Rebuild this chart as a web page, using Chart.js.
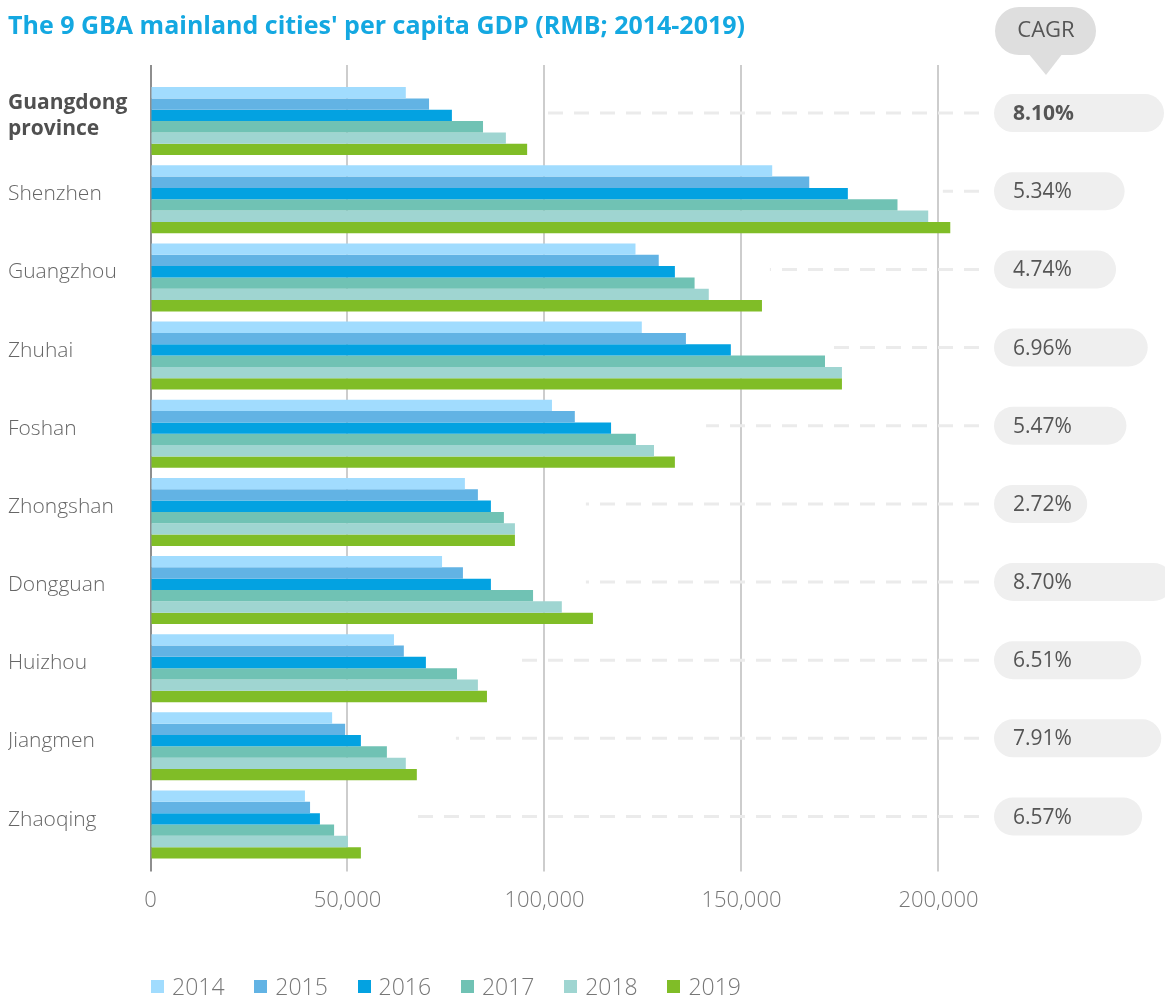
<!DOCTYPE html>
<html>
<head>
<meta charset="utf-8">
<title>GBA per capita GDP</title>
<script src="https://cdn.jsdelivr.net/npm/chart.js@4.4.1/dist/chart.umd.min.js"></script>
<style>
    html, body { margin: 0; padding: 0; background: #fff; }
    #wrap { position: relative; width: 1165px; height: 998px; overflow: hidden; }
    #legend {
        position: absolute; left: 151px; top: 973px;
        display: flex; font-family: 'Open Sans', sans-serif; font-weight: 300;
        font-size: 23px; line-height: 26px; color: #777;
    }
    #legend .item { display: flex; align-items: center; width: 103.3px; }
    #legend .box { width: 13px; height: 13px; margin-right: 8px; }
</style>
</head>
<body>
<div id="wrap">
    <canvas id="chart" width="1165" height="998"></canvas>
    <div id="legend"></div>
</div>
<script>
// Chart data
const cities = [['Guangdong', 'province'], 'Shenzhen', 'Guangzhou', 'Zhuhai', 'Foshan',
    'Zhongshan', 'Dongguan', 'Huizhou', 'Jiangmen', 'Zhaoqing'];
const years = ['2014', '2015', '2016', '2017', '2018', '2019'];
const gdp2014 = [64800, 157800, 123100, 124700, 101900, 79800, 74000, 61800, 46100, 39200];
const gdp2015 = [70700, 167200, 129000, 135900, 107700, 83100, 79300, 64300, 49400, 40500];
const gdp2016 = [76500, 177000, 133100, 147300, 116900, 86400, 86400, 69900, 53400, 43000];
const gdp2017 = [84400, 189600, 138100, 171200, 123200, 89700, 97100, 77800, 60000, 46600];
const gdp2018 = [90200, 197400, 141700, 175500, 127800, 92500, 104400, 83100, 64800, 50100];
const gdp2019 = [95600, 203000, 155200, 175500, 133100, 92500, 112300, 85400, 67600, 53400];
const cagr = [8.10, 5.34, 4.74, 6.96, 5.47, 2.72, 8.70, 6.51, 7.91, 6.57];
const xTicks = [0, 50000, 100000, 150000, 200000];

// Styles
const palette = ['#a1dcfe', '#62b3e4', '#03a2e1', '#70c2b4', '#9fd5d1', '#80bd27'];
const FONT = "'Open Sans', sans-serif";
const series = [gdp2014, gdp2015, gdp2016, gdp2017, gdp2018, gdp2019];

function gridColor(ctx) {
    return ctx.tick && ctx.tick.value === 0 ? '#8e8e8e' : '#cdcdcd';
}

function setTicks(scale) {
    scale.ticks = xTicks.map(v => ({ value: v }));
}

function pillPath(ctx, x, y, w, h) {
    const r = h / 2;
    ctx.beginPath();
    ctx.moveTo(x + r, y);
    ctx.lineTo(x + w - r, y);
    ctx.arc(x + w - r, y + r, r, -Math.PI / 2, Math.PI / 2);
    ctx.lineTo(x + r, y + h);
    ctx.arc(x + r, y + r, r, Math.PI / 2, Math.PI * 1.5);
    ctx.closePath();
}

/**
 * Dashed leaders, CAGR pills and the CAGR callout
 */
const cagrPlugin = {
    id: 'cagrPills',
    beforeDatasetsDraw(chart) {
        const ctx = chart.ctx;
        const x = chart.scales.x;
        const y = chart.scales.y;
        ctx.save();
        ctx.strokeStyle = '#ebebeb';
        ctx.lineWidth = 3;
        ctx.setLineDash([15, 11]);
        cities.forEach((c, i) => {
            const yc = y.getPixelForValue(i) - 8;
            ctx.beginPath();
            ctx.moveTo(979, yc);
            ctx.lineTo(x.getPixelForValue(gdp2016[i]) + 95, yc);
            ctx.stroke();
        });
        ctx.restore();
    },
    afterDraw(chart) {
        const ctx = chart.ctx;
        const y = chart.scales.y;
        const pct = chart.scales.xPct;
        ctx.save();

        // callout
        ctx.fillStyle = '#dedede';
        pillPath(ctx, 995, 7, 101, 48);
        ctx.fill();
        ctx.beginPath();
        ctx.moveTo(1028, 53);
        ctx.lineTo(1063, 53);
        ctx.lineTo(1046, 75);
        ctx.closePath();
        ctx.fill();
        ctx.fillStyle = '#555';
        ctx.font = '400 22px ' + FONT;
        ctx.textAlign = 'center';
        ctx.textBaseline = 'middle';
        ctx.fillText('CAGR', 1046, 31);

        // pills
        ctx.textAlign = 'left';
        cagr.forEach((v, i) => {
            const yc = y.getPixelForValue(i) - 8;
            const left = 994;
            const right = pct.getPixelForValue(v);
            ctx.fillStyle = '#efefef';
            pillPath(ctx, left, yc - 19, right - left, 38);
            ctx.fill();
            ctx.fillStyle = '#555';
            ctx.font = (i === 0 ? 'bold ' : '400 ') + '21px ' + FONT;
            ctx.fillText(v.toFixed(2) + '%', 1013, yc + 1);
        });
        ctx.restore();
    }
};

const chart = new Chart(document.getElementById('chart').getContext('2d'), {
    type: 'bar',
    data: {
        labels: cities,
        datasets: years.map((yr, k) => ({
            label: yr,
            data: series[k],
            backgroundColor: palette[k],
            borderWidth: 0,
            barPercentage: 1,
            categoryPercentage: 0.87,
            xAxisID: 'x',
            yAxisID: 'y'
        }))
    },
    options: {
        indexAxis: 'y',
        responsive: false,
        animation: false,
        layout: { padding: { left: 8, right: 0, top: 0, bottom: 68 } },
        plugins: {
            legend: { display: false },
            tooltip: { enabled: false },
            title: {
                display: true,
                text: "The 9 GBA mainland cities' per capita GDP (RMB; 2014-2019)",
                align: 'start',
                color: '#14a8e1',
                font: { family: FONT, size: 25, weight: 'bold', lineHeight: 1.2 },
                padding: { top: 12, bottom: 23 }
            }
        },
        scales: {
            x: {
                type: 'linear',
                position: 'bottom',
                min: 0,
                max: 257500,
                afterBuildTicks: setTicks,
                border: { display: false },
                grid: { color: gridColor, lineWidth: 2, tickLength: 8 },
                ticks: {
                    padding: 16,
                    color: '#777',
                    font: { family: FONT, size: 22, weight: 300, lineHeight: 1.2 },
                    callback: v => v.toLocaleString('en-US')
                }
            },
            xTop: {
                type: 'linear',
                position: 'top',
                min: 0,
                max: 257500,
                afterBuildTicks: setTicks,
                border: { display: false },
                grid: { color: gridColor, lineWidth: 2, tickLength: 17, drawOnChartArea: false },
                ticks: { display: false }
            },
            xPct: {
                type: 'linear',
                display: false,
                min: -62.9,
                max: 8.17
            },
            y: {
                type: 'category',
                border: { display: false },
                grid: { display: false },
                afterFit: s => { s.width = 142.5; },
                ticks: {
                    crossAlign: 'far',
                    labelOffset: -5,
                    color: ctx => ctx.index === 0 ? '#505050' : '#666',
                    font: ctx => ({
                        family: FONT,
                        size: 21,
                        weight: ctx.index === 0 ? 'bold' : 300,
                        lineHeight: 1.2
                    })
                }
            }
        }
    },
    plugins: [cagrPlugin]
});

// HTML legend
const legendEl = document.getElementById('legend');
years.forEach((yr, k) => {
    const item = document.createElement('div');
    item.className = 'item';
    const box = document.createElement('span');
    box.className = 'box';
    box.style.background = palette[k];
    const txt = document.createElement('span');
    txt.textContent = yr;
    item.appendChild(box);
    item.appendChild(txt);
    legendEl.appendChild(item);
});
</script>
</body>
</html>
